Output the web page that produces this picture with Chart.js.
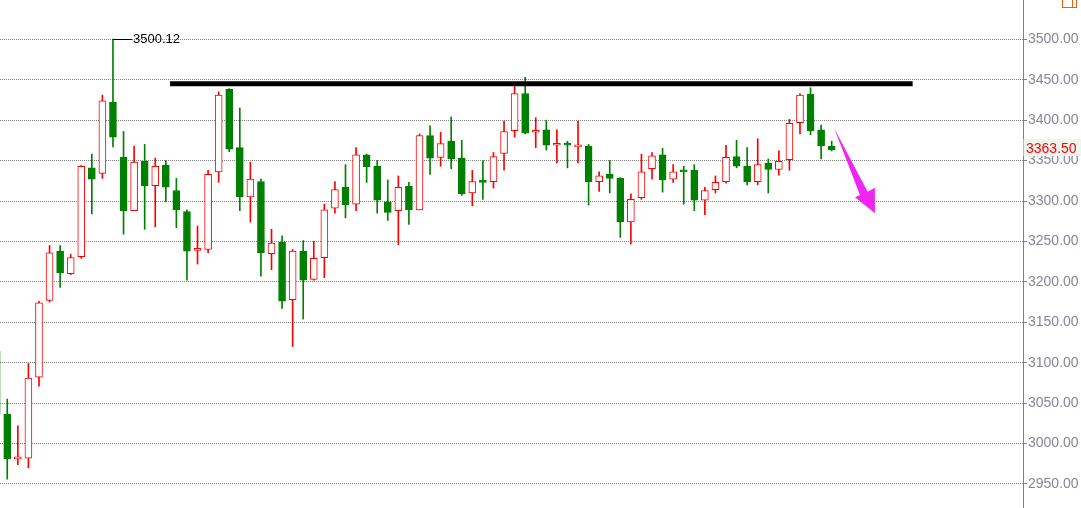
<!DOCTYPE html>
<html>
<head>
<meta charset="utf-8">
<title>K线图</title>
<script src="https://cdn.jsdelivr.net/npm/chart.js@4.4.1/dist/chart.umd.min.js"></script>
<style>
  html, body { margin: 0; padding: 0; background: #fff; }
  #kline { display: block; }
</style>
</head>
<body>
<canvas id="kline" width="1081" height="508"></canvas>
<script>
// daily candles, oldest first (first one is cut off at the left edge)
const opens = [
  3114, 3036, 2981, 2982, 3082, 3177, 3238, 3210, 3231, 3341,
  3334, 3422, 3354, 3288, 3349, 3319, 3344, 3313, 3287, 3239,
  3240, 3336, 3438, 3366, 3305, 3324, 3235, 3249, 3178, 3238,
  3203, 3230, 3291, 3317, 3296, 3357, 3343, 3299, 3288, 3318,
  3289, 3381, 3354, 3374, 3353, 3310, 3324, 3324, 3359, 3387,
  3433, 3385, 3388, 3369, 3370, 3367, 3368, 3324, 3333, 3328,
  3274, 3304, 3340, 3357, 3327, 3337, 3338, 3301, 3314, 3324,
  3355, 3343, 3324, 3347, 3339, 3351, 3397, 3432, 3388, 3368
];
const highs = [
  3114, 3055, 3022, 3099, 3176, 3245, 3245, 3234, 3344, 3358,
  3431, 3500.12, 3386, 3368, 3370, 3353, 3350, 3328, 3289, 3269,
  3338, 3435, 3439, 3415, 3348, 3327, 3265, 3257, 3240, 3251,
  3250, 3296, 3324, 3345, 3366, 3358, 3350, 3326, 3331, 3323,
  3383, 3393, 3385, 3404, 3375, 3338, 3350, 3360, 3399, 3443,
  3453, 3403, 3400, 3388, 3374, 3399, 3370, 3336, 3350, 3329,
  3309, 3358, 3360, 3365, 3345, 3343, 3345, 3317, 3331, 3369,
  3375, 3366, 3377, 3352, 3362, 3401, 3433, 3440, 3394, 3374
];
const lows = [
  3037, 2956, 2974, 2970, 3071, 3175, 3193, 3209, 3229, 3284,
  3328, 3367, 3259, 3288, 3265, 3268, 3299, 3267, 3202, 3222,
  3236, 3323, 3361, 3288, 3274, 3207, 3215, 3167, 3120, 3154,
  3202, 3205, 3285, 3279, 3288, 3323, 3285, 3276, 3246, 3271,
  3289, 3333, 3343, 3340, 3307, 3294, 3302, 3316, 3338, 3379,
  3383, 3366, 3363, 3347, 3341, 3347, 3295, 3312, 3310, 3255,
  3247, 3302, 3327, 3311, 3323, 3296, 3288, 3283, 3310, 3322,
  3341, 3320, 3320, 3310, 3332, 3338, 3383, 3382, 3352, 3362
];
const closes = [
  3037, 2981, 2982, 3081, 3174, 3236, 3211, 3230, 3343, 3327,
  3424, 3379, 3288, 3348, 3319, 3343, 3317, 3289, 3238, 3240,
  3333, 3431, 3364, 3305, 3327, 3236, 3248, 3176, 3238, 3202,
  3229, 3289, 3314, 3295, 3357, 3342, 3301, 3286, 3317, 3289,
  3381, 3353, 3371, 3352, 3309, 3324, 3323, 3355, 3386, 3433,
  3384, 3387, 3369, 3370, 3369, 3368, 3324, 3331, 3328, 3274,
  3302, 3336, 3356, 3326, 3336, 3336, 3301, 3313, 3323, 3354,
  3343, 3324, 3345, 3339, 3349, 3396, 3431, 3387, 3368, 3363.5
];

const yTickValues = [2950, 3000, 3050, 3100, 3150, 3200, 3250, 3300, 3350, 3400, 3450, 3500];

// hand-drawn marks on the original picture (bar index, price)
const resistanceLine = [{ x: 16.4, y: 3445 }, { x: 86.66, y: 3445 }];
const arrowShape = [
  [79.24, 3389.9], [82.40, 3311.5], [83.09, 3316.5],
  [83.09, 3284.8], [81.20, 3304.6], [81.67, 3307.4]
];

const UP = '#ff0000';
const DOWN = '#008000';
const isUp = i => closes[i] >= opens[i];

const bodies = opens.map((o, i) => ({ x: i, y: [o, closes[i]] }));
const wicks = lows.map((l, i) => ({ x: i, y: [l, highs[i]] }));

const markPlugin = {
  id: 'marks',
  afterDatasetsDraw(chart) {
    const { ctx, scales: { x, y } } = chart;
    ctx.save();
    // pink arrow
    ctx.fillStyle = '#f026f0';
    ctx.beginPath();
    arrowShape.forEach(([i, v], k) => {
      const px = x.getPixelForValue(i), py = y.getPixelForValue(v);
      if (k === 0) ctx.moveTo(px, py); else ctx.lineTo(px, py);
    });
    ctx.closePath();
    ctx.fill();

    // highest price label
    const top = Math.max(...highs);
    const pi = highs.indexOf(top);
    const hx = x.getPixelForValue(pi);
    const hy = Math.round(y.getPixelForValue(top)) + 0.5;
    ctx.strokeStyle = '#000';
    ctx.lineWidth = 1;
    ctx.beginPath();
    ctx.moveTo(hx, hy);
    ctx.lineTo(hx + 19, hy);
    ctx.stroke();
    ctx.fillStyle = '#000';
    ctx.font = "13px 'Liberation Sans', Arial, sans-serif";
    ctx.textBaseline = 'middle';
    ctx.textAlign = 'left';
    ctx.fillText(top.toFixed(2), hx + 20, hy);
    ctx.restore();
  },
  afterDraw(chart) {
    const { ctx, chartArea, scales: { y } } = chart;
    const last = closes[closes.length - 1];
    const ly = y.getPixelForValue(last);
    ctx.save();
    ctx.fillStyle = '#eef5ee';
    ctx.fillRect(chartArea.right + 0.5, Math.round(ly - 11), chart.width - chartArea.right, 17);
    ctx.fillStyle = '#ff0000';
    ctx.font = "14px 'Liberation Sans', Arial, sans-serif";
    ctx.textBaseline = 'alphabetic';
    ctx.textAlign = 'left';
    ctx.fillText(last.toFixed(2), chartArea.right + 3, ly + 3);

    // little orange button in the corner
    ctx.strokeStyle = '#e8601c';
    ctx.lineWidth = 1;
    ctx.strokeRect(chart.width - 18.5, -0.5, 14, 8);
    ctx.beginPath();
    ctx.moveTo(chart.width - 8.5, 0);
    ctx.lineTo(chart.width - 8.5, 8);
    ctx.stroke();
    ctx.restore();
  }
};

Chart.defaults.font.family = "'Liberation Sans', Arial, sans-serif";

new Chart(document.getElementById('kline'), {
  type: 'bar',
  data: {
    datasets: [
      {
        type: 'line',
        data: resistanceLine,
        borderColor: '#000',
        borderWidth: 5,
        borderCapStyle: 'butt',
        pointRadius: 0,
        fill: false,
        order: 0
      },
      {
        data: bodies,
        backgroundColor: bodies.map((d, i) => isUp(i) ? '#ffffff' : DOWN),
        borderColor: bodies.map((d, i) => isUp(i) ? UP : DOWN),
        borderWidth: 1,
        borderSkipped: false,
        barThickness: 7,
        minBarLength: 2,
        grouped: false,
        order: 1
      },
      {
        data: wicks,
        backgroundColor: wicks.map((d, i) => isUp(i) ? UP : DOWN),
        borderWidth: 0,
        barThickness: 1,
        grouped: false,
        order: 2
      }
    ]
  },
  options: {
    responsive: false,
    animation: false,
    layout: { padding: 0 },
    plugins: {
      legend: { display: false },
      tooltip: { enabled: false }
    },
    scales: {
      x: {
        type: 'linear',
        display: false,
        offset: false,
        min: 0.312,
        max: 97.1,
        grid: { display: false }
      },
      y: {
        position: 'right',
        min: 2920.3,
        max: 3548.6,
        afterBuildTicks(scale) {
          scale.ticks = yTickValues.map(v => ({ value: v }));
        },
        afterFit(scale) {
          // no room for half labels above/below, the plot runs to the edges
          scale.width = 58;
          scale.paddingTop = 0;
          scale.paddingBottom = 0;
        },
        grid: {
          color: '#808080',
          lineWidth: 1,
          tickLength: 4,
          tickColor: '#808080'
        },
        border: {
          display: true,
          color: '#808080',
          width: 1,
          dash: [1, 1]
        },
        ticks: {
          padding: 1,
          color: '#868696',
          font: { size: 14 },
          callback: v => Number(v).toFixed(2)
        }
      }
    }
  },
  plugins: [markPlugin]
});
</script>
</body>
</html>
